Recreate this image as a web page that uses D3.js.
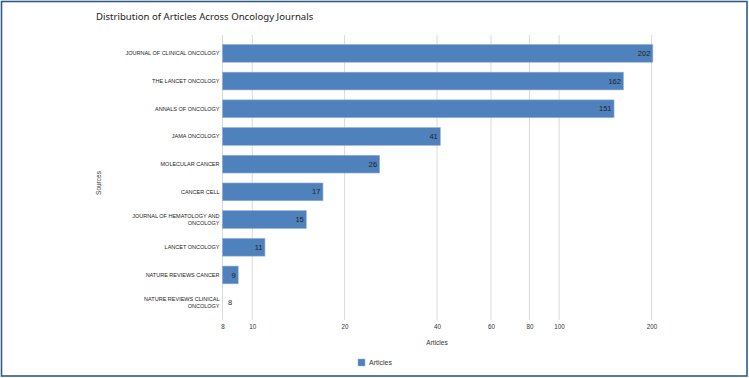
<!DOCTYPE html>
<html><head><meta charset="utf-8">
<script src="https://cdn.jsdelivr.net/npm/d3@7"></script>
<style>html,body{margin:0;padding:0;background:#fff;}svg{display:block;}</style>
</head><body>
<script>
const categories = ["JOURNAL OF CLINICAL ONCOLOGY","THE LANCET ONCOLOGY","ANNALS OF ONCOLOGY","JAMA ONCOLOGY","MOLECULAR CANCER","CANCER CELL","JOURNAL OF HEMATOLOGY AND ONCOLOGY","LANCET ONCOLOGY","NATURE REVIEWS CANCER","NATURE REVIEWS CLINICAL ONCOLOGY"];
const labelLines = [["JOURNAL OF CLINICAL ONCOLOGY"],["THE LANCET ONCOLOGY"],["ANNALS OF ONCOLOGY"],["JAMA ONCOLOGY"],["MOLECULAR CANCER"],["CANCER CELL"],["JOURNAL OF HEMATOLOGY AND","ONCOLOGY"],["LANCET ONCOLOGY"],["NATURE REVIEWS CANCER"],["NATURE REVIEWS CLINICAL","ONCOLOGY"]];
const articles = [202,162,151,41,26,17,15,11,9,8];
const xTicks = [8,10,20,40,60,80,100,200];
const title = "Distribution of Articles Across Oncology Journals";
const xTitle = "Articles";
const yTitle = "Sources";
const legendLabel = "Articles";

const W = 749, H = 378;
const svg = d3.select("body").append("svg").attr("width", W).attr("height", H);
svg.append("rect").attr("x",1.5).attr("y",1.5).attr("width",W-3.5).attr("height",H-3.5)
  .attr("fill","#fff").attr("stroke","#2f5a86").attr("stroke-width",1.6);

const x = d3.scaleLog().domain([8,200]).range([222.5,651.5]);
const y = d3.scaleBand().domain(categories).range([39.5,316.5]).paddingInner(0.36).paddingOuter(0.18);

// gridlines
svg.append("g").selectAll("line").data(xTicks).join("line")
  .attr("x1",d=>x(d)).attr("x2",d=>x(d)).attr("y1",35).attr("y2",320)
  .attr("stroke","#d9d9d9").attr("stroke-width",1);

// x axis tick labels
const xAxis = d3.axisBottom(x).tickValues(xTicks).tickFormat(d3.format("d")).tickSize(0).tickPadding(0);
const gx = svg.append("g").attr("transform","translate(0,325)").call(xAxis);
gx.select(".domain").remove();
gx.selectAll("text").attr("font-family","Liberation Sans, Arial, sans-serif").attr("font-size",6.3).attr("fill","#333").attr("dy","0.71em");

// bars
svg.append("g").selectAll("rect").data(articles).join("rect")
  .attr("x",x(8)).attr("y",(d,i)=>y(categories[i]))
  .attr("width",d=>x(d)-x(8)).attr("height",y.bandwidth())
  .attr("fill","#4f81bd").attr("stroke","#8eb0da").attr("stroke-width",0.6);

// value labels
svg.append("g").selectAll("text").data(articles).join("text")
  .attr("x",d=> (x(d)-x(8) > 10) ? x(d)-2.5 : x(8)+5.5)
  .attr("text-anchor",d=> (x(d)-x(8) > 10) ? "end" : "start")
  .attr("y",(d,i)=>y(categories[i])+y.bandwidth()/2).attr("dy","0.35em")
  .attr("font-family","Liberation Sans, Arial, sans-serif").attr("font-size",7.5).attr("fill","#222")
  .text(d=>d);

// y labels
const gy = svg.append("g");
categories.forEach((c,i)=>{
  const lines = labelLines[i];
  const cy = y(c)+y.bandwidth()/2;
  const lh = 6.8;
  const t = gy.append("text").attr("text-anchor","end")
    .attr("font-family","Liberation Sans, Arial, sans-serif").attr("font-size",5.5).attr("fill","#222");
  lines.forEach((ln,j)=>{
    t.append("tspan").attr("x",219.5).attr("y",cy + (j-(lines.length-1)/2)*lh).attr("dy","0.35em").text(ln);
  });
});

// titles
svg.append("text").attr("x",96).attr("y",20).attr("font-family","Noto Sans, Open Sans, sans-serif")
  .attr("font-size",9.6).attr("fill","#222").text(title);
svg.append("text").attr("x",437).attr("y",343).attr("text-anchor","middle").attr("dy","0.35em")
  .attr("font-family","Liberation Sans, Arial, sans-serif").attr("font-size",6.5).attr("fill","#333").text(xTitle);
svg.append("text").attr("transform","translate(98.5,183) rotate(-90)").attr("text-anchor","middle").attr("dy","0.35em")
  .attr("font-family","Liberation Sans, Arial, sans-serif").attr("font-size",6.5).attr("fill","#333").text(yTitle);

// legend
svg.append("rect").attr("x",358).attr("y",359).attr("width",7).attr("height",7).attr("fill","#4f81bd").attr("stroke","#8eb0da").attr("stroke-width",0.5);
svg.append("text").attr("x",369).attr("y",362.5).attr("dy","0.35em")
  .attr("font-family","Liberation Sans, Arial, sans-serif").attr("font-size",7).attr("fill","#333").text(legendLabel);
</script>
</body></html>
